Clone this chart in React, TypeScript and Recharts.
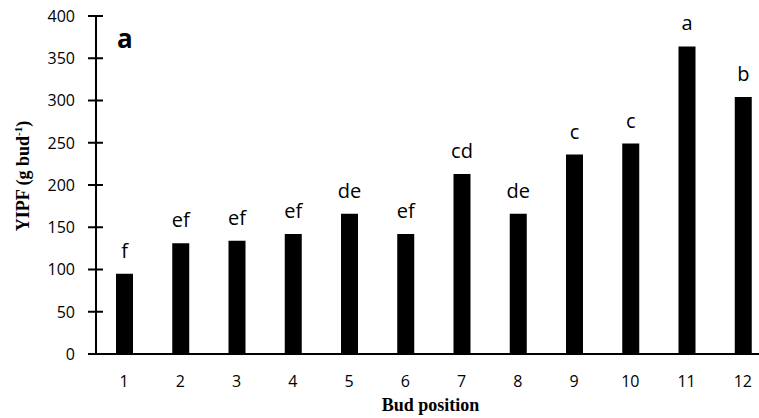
import React from 'react';
import { BarChart, Bar, XAxis, YAxis, LabelList } from 'recharts';

const budPositions = ['1', '2', '3', '4', '5', '6', '7', '8', '9', '10', '11', '12'];
const yipfValues = [95, 131, 134, 142, 166, 142, 213, 166, 236, 249, 364, 304];
const groupLetters = ['f', 'ef', 'ef', 'ef', 'de', 'ef', 'cd', 'de', 'c', 'c', 'a', 'b'];
const yTicks = [0, 50, 100, 150, 200, 250, 300, 350, 400];
const Y_MAX = 400;

const data = budPositions.map((p, i) => ({ pos: p, yipf: yipfValues[i], letter: groupLetters[i] }));

const SANS = '"Open Sans", "Noto Sans", sans-serif';
const SERIF = '"Liberation Serif", "DejaVu Serif", serif';

const renderYTick = (props: any) => {
  const { x, y, payload } = props;
  return (
    <text key={`yt-${payload.value}`} x={x} y={y} dy="0.36em" textAnchor="end" fontSize={16} fontFamily={SANS} fill="#000">
      {payload.value}
    </text>
  );
};

const renderXTick = (props: any) => {
  const { x, y, payload } = props;
  return (
    <text key={`xt-${payload.value}`} x={x} y={y + 33} textAnchor="middle" fontSize={16} fontFamily={SANS} fill="#000">
      {payload.value}
    </text>
  );
};

const YTitle = (props: any) => {
  const vb = props.viewBox || { x: 0, y: 16, width: 96, height: 338 };
  const axisX = vb.x + vb.width;
  const cx = 29;
  const cy = vb.y + vb.height / 2 - 9;
  return (
    <g>
      {yTicks.map((t) => {
        const ty = vb.y + vb.height * (1 - t / Y_MAX);
        return <line key={t} x1={axisX - 8} x2={axisX + 7} y1={ty} y2={ty} stroke="#000" strokeWidth={2} />;
      })}
      <text
        x={cx}
        y={cy}
        transform={`rotate(-90, ${cx}, ${cy})`}
        textAnchor="middle"
        fontSize={18}
        fontWeight="bold"
        fontFamily={SERIF}
        fill="#000"
      >
        <tspan>YIPF (g bud</tspan>
        <tspan fontSize={11} dy={-7}>-1</tspan>
        <tspan dy={7}>)</tspan>
      </text>
      <text x={axisX + 21} y={vb.y + 32} fontSize={26} fontWeight="bold" fontFamily={SANS} fill="#000">
        a
      </text>
    </g>
  );
};

const XTitle = (props: any) => {
  const vb = props.viewBox || { x: 96, y: 354, width: 675, height: 64 };
  return (
    <text
      x={vb.x + vb.width / 2 - 3}
      y={vb.y + 57}
      textAnchor="middle"
      fontSize={18}
      fontWeight="bold"
      fontFamily={SERIF}
      fill="#000"
    >
      Bud position
    </text>
  );
};

export default function App() {
  return (
    <div style={{ position: 'absolute', left: 0, top: 0, width: 759, height: 418, overflow: 'hidden', background: '#fff' }}>
      <BarChart width={790} height={418} data={data} margin={{ top: 16, right: 19, left: 0, bottom: 0 }}>
        <XAxis
          dataKey="pos"
          height={64}
          axisLine={{ stroke: '#000', strokeWidth: 2 }}
          tickLine={false}
          tickSize={0}
          tickMargin={0}
          tick={renderXTick}
          interval={0}
          label={{ content: XTitle } as any}
        />
        <YAxis
          width={96}
          domain={[0, Y_MAX]}
          ticks={yTicks}
          allowDataOverflow
          axisLine={{ stroke: '#000', strokeWidth: 2 }}
          tickLine={false}
          tickSize={8}
          tickMargin={13}
          tick={renderYTick}
          interval={0}
          label={{ content: YTitle } as any}
        />
        <Bar dataKey="yipf" fill="#000" barSize={17} isAnimationActive={false}>
          <LabelList dataKey="letter" position="top" offset={16} fontSize={20} fontFamily={SANS} fill="#000" />
        </Bar>
      </BarChart>
    </div>
  );
}
